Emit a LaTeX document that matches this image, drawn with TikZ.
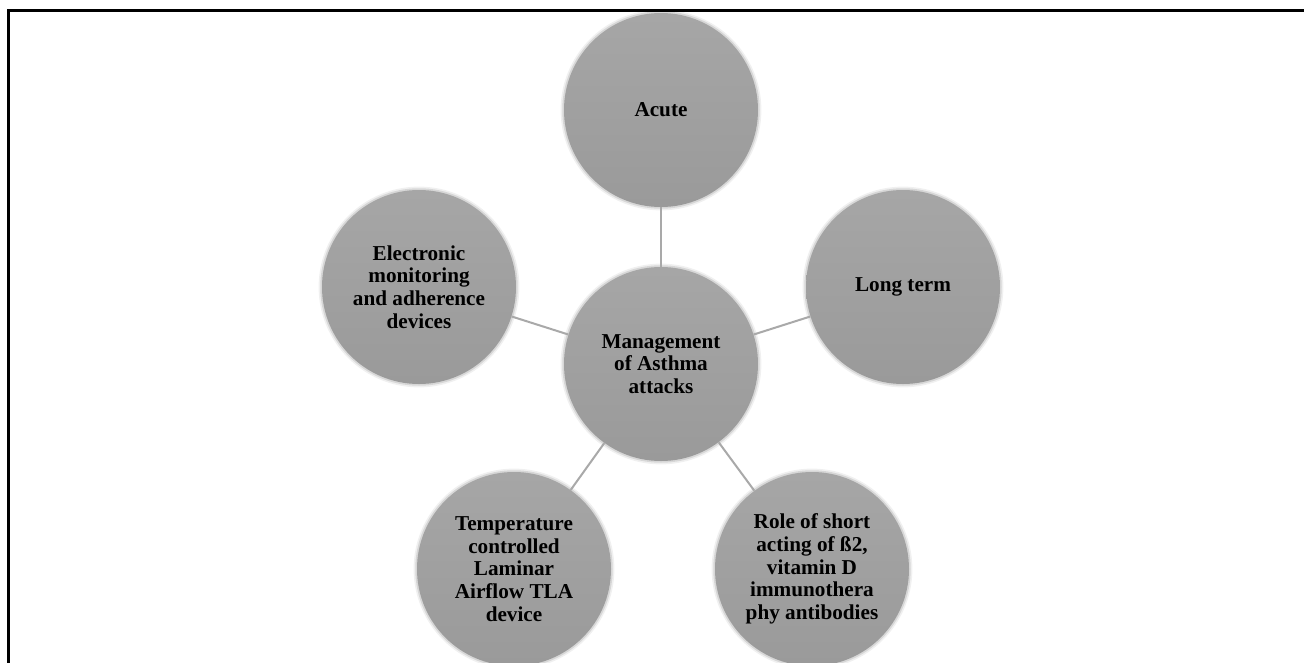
\documentclass[tikz,border=0pt]{standalone}
\usepackage{fontspec}
\setmainfont{Liberation Serif}
\usetikzlibrary{shadows}
\definecolor{ctop}{HTML}{A6A6A6}
\definecolor{cbot}{HTML}{9A9A9A}
\definecolor{linkgray}{HTML}{A9A9A9}
\tikzset{
  bub/.style={circle, minimum size=194pt, inner sep=0pt, top color=ctop, bottom color=cbot,
    font=\bfseries\fontsize{21.2}{22.6}\selectfont, align=center, text=black,
    general shadow={shadow scale=1.035, fill=black, opacity=0.06},
    general shadow={shadow scale=1.018, fill=black, opacity=0.10}},
  link/.style={draw=linkgray, line width=2pt},
  frame/.style={draw=black, line width=2.6pt}
}
\begin{document}
\begin{tikzpicture}[x=1pt,y=-1pt]
\clip (0,0) rectangle (1304,662);
\fill[white] (0,0) rectangle (1304,662);
\draw[frame] (8.7,700) -- (8.7,10.7) -- (1320,10.7);
\node[bub] (c) at (661,364) {Management\\of Asthma\\attacks};
\node[bub] (a) at (661,110) {Acute};
\node[bub] (l) at (903,287) {Long term};
\node[bub] (r) at (812,569) {Role of short\\acting of ß2,\\vitamin D\\immunothera\\phy antibodies};
\node[bub] (t) at (514,569) {Temperature\\controlled\\Laminar\\Airflow TLA\\device};
\node[bub] (e) at (419,287) {Electronic\\monitoring\\and adherence\\devices};
\draw[link] (c) -- (a);
\draw[link] (c) -- (l);
\draw[link] (c) -- (r);
\draw[link] (c) -- (t);
\draw[link] (c) -- (e);
\end{tikzpicture}
\end{document}
